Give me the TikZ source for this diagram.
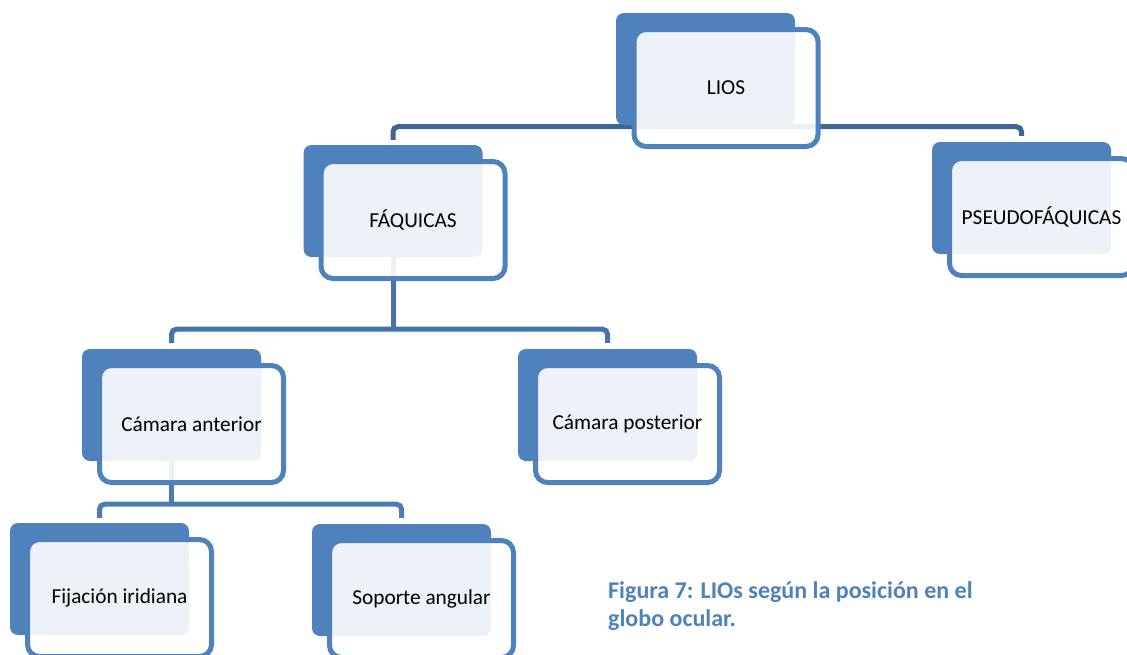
\documentclass[tikz,border=0pt]{standalone}
\usepackage{fontspec}
\setmainfont{Carlito}
\usetikzlibrary{calc}
\definecolor{accent}{RGB}{79,129,189}
\definecolor{connA}{RGB}{62,101,152}
\definecolor{connB}{RGB}{70,115,172}
\definecolor{connC}{RGB}{76,124,182}
\pgfdeclarelayer{bg}
\pgfsetlayers{bg,main}
\tikzset{
  backbox/.style={fill=accent, draw=none, rounded corners=8pt, minimum width=179pt, minimum height=112pt, inner sep=0pt},
  frontbox/.style={fill=white, fill opacity=0.9, text opacity=1, draw=accent, draw opacity=1, line width=5pt, rounded corners=12pt, minimum width=184pt, minimum height=117pt, inner sep=0pt, font=\fontsize{21.3}{25}\selectfont, text=black},
  conn/.style={line width=5pt, rounded corners=5pt},
  captionstyle/.style={anchor=base west, inner sep=0pt, align=left, text=accent, font=\bfseries\fontsize{24}{28.5}\selectfont}
}
\begin{document}
\begin{tikzpicture}[x=1pt, y=-1pt]
\useasboundingbox (0,0) rectangle (1127,654);
\clip (0,0) rectangle (1127,654);
% LIOS
\node[backbox] (lios) at (705.5,69) {};
\node[frontbox] (liosf) at (726,88) {LIOS};
% FAQUICAS
\node[backbox] (fa) at (393,201) {};
\node[frontbox] (faf) at (413,220) {FÁQUICAS};
% PSEUDOFAQUICAS
\node[backbox] (ps) at (1021.5,198) {};
\node[frontbox] (psf) at (1041.5,217) {PSEUDOFÁQUICAS};
% Camara anterior
\node[backbox] (ca) at (171.5,405) {};
\node[frontbox] (caf) at (191.5,424) {Cámara anterior};
% Camara posterior
\node[backbox] (cp) at (607.5,405) {};
\node[frontbox] (cpf) at (627.5,424) {Cámara posterior};
% Fijacion iridiana
\node[backbox] (fi) at (99.5,579) {};
\node[frontbox] (fif) at (119.5,598) {Fijación iridiana};
% Soporte angular
\node[backbox] (sa) at (401.5,580) {};
\node[frontbox] (saf) at (421.5,599) {Soporte angular};
% connectors
\begin{pgfonlayer}{bg}
\fill[white] (0,0) rectangle (1127,654);
\coordinate (bus1) at ($(lios.south)+(0,1.5)$);
\draw[conn, connA] ([yshift=5pt]fa.north) |- (bus1) -| ([yshift=6pt]ps.north);
\coordinate (bus2) at ($(fa.south)+(0,72)$);
\draw[conn, connB] (fa.south) -- (bus2);
\draw[conn, connB] ([yshift=6pt]ca.north) |- (bus2) -| ([yshift=6pt]cp.north);
\coordinate (bus3) at ($(ca.south)+(0,43)$);
\draw[conn, connC] (ca.south) -- (bus3);
\draw[conn, connC] ([yshift=5pt]fi.north) |- (bus3) -| ([yshift=6pt]sa.north);
\end{pgfonlayer}
% caption
\node[captionstyle] (cap) at (608,626.5) {Figura 7: LIOs según la posición en el\\globo ocular.};
\end{tikzpicture}
\end{document}
